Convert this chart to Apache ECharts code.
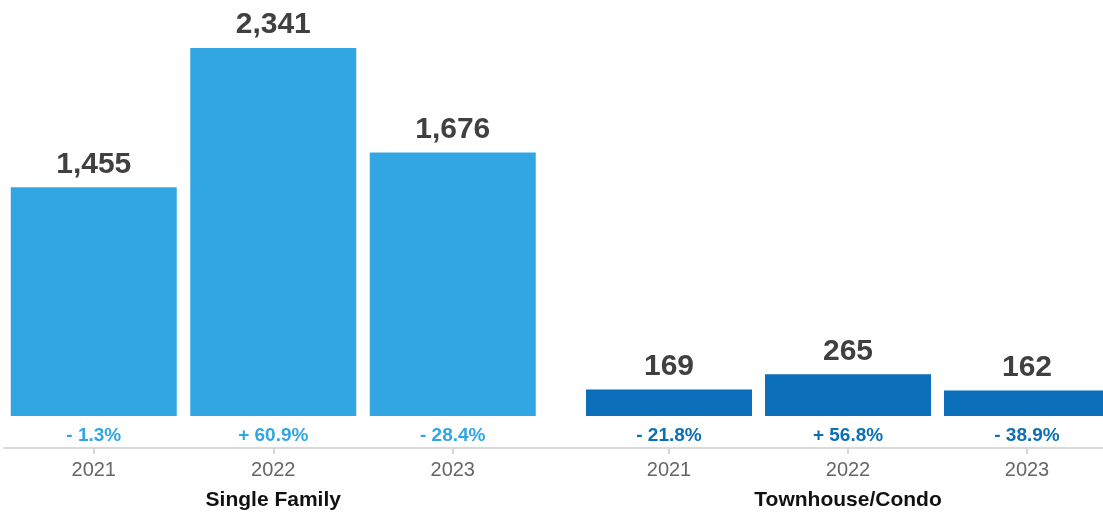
<!DOCTYPE html>
<html>
<head>
<meta charset="utf-8">
<script src="https://cdn.jsdelivr.net/npm/echarts@6/dist/echarts.min.js"></script>
<style>
html,body{margin:0;padding:0;background:#fff;}
#chart{width:1103px;height:514px;}
</style>
</head>
<body>
<div id="chart"></div>
<script>
const groups = ['Single Family', 'Townhouse/Condo'];
const years = ['2021', '2022', '2023'];
const singleFamily = [1455, 2341, 1676];
const townhouse = [169, 265, 162];
const singleFamilyChange = ['- 1.3%', '+ 60.9%', '- 28.4%'];
const townhouseChange = ['- 21.8%', '+ 56.8%', '- 38.9%'];

const FONT = '"Liberation Sans", Arial, Helvetica, sans-serif';
const colors = ['#31a6e2', '#0a6eb8'];
const changeColors = ['#31a6e2', '#0b6fb8'];
const values = [singleFamily, townhouse];
const changes = [singleFamilyChange, townhouseChange];

const grids = [
  { left: 4, width: 538.5, top: 23, bottom: 98, outerBoundsMode: 'none', containLabel: false },
  { left: 579.5, width: 537, top: 23, bottom: 98, outerBoundsMode: 'none', containLabel: false },
  { left: 4, width: 1112, top: 23, bottom: 98, outerBoundsMode: 'none', containLabel: false }
];

const xAxes = [];
const yAxes = [];
const series = [];
for (let g = 0; g < 2; g++) {
  xAxes.push({
    type: 'category', gridIndex: g, data: years, offset: 32,
    axisLine: { show: false, onZero: false },
    axisTick: { show: true, alignWithLabel: true, length: 6, lineStyle: { color: '#d6d6d6', width: 2 } },
    axisLabel: { color: '#666', fontSize: 20, fontFamily: FONT, margin: 12 },
    name: groups[g], nameLocation: 'middle', nameGap: 42,
    nameTextStyle: { color: '#111', fontSize: 21, fontWeight: 'bold', fontFamily: FONT }
  });
  yAxes.push({ type: 'value', gridIndex: g, min: 0, max: 2500, show: false });
  series.push({
    type: 'bar', xAxisIndex: g, yAxisIndex: g, data: values[g], barWidth: 166,
    itemStyle: { color: colors[g] },
    label: {
      show: true, position: 'top', distance: 8,
      fontSize: 30, fontWeight: 'bold', color: '#404040', fontFamily: FONT,
      formatter: p => p.value.toLocaleString('en-US')
    },
    z: 3
  });
  series.push({
    type: 'bar', xAxisIndex: g, yAxisIndex: g, data: values[g], barWidth: 166, barGap: '-100%',
    itemStyle: { color: 'rgba(0,0,0,0)' },
    label: {
      show: true, position: 'bottom', distance: 10,
      fontSize: 19, fontWeight: 'bold', color: changeColors[g], fontFamily: FONT,
      formatter: p => changes[g][p.dataIndex]
    },
    z: 4
  });
}
// continuous baseline axis spanning both groups
xAxes.push({
  type: 'category', gridIndex: 2, data: [''], offset: 32,
  axisLine: { show: true, onZero: false, lineStyle: { color: '#d9d9d9', width: 2 } },
  axisTick: { show: false }, axisLabel: { show: false }
});
yAxes.push({ type: 'value', gridIndex: 2, show: false });

const chart = echarts.init(document.getElementById('chart'));
chart.setOption({
  animation: false,
  grid: grids,
  xAxis: xAxes,
  yAxis: yAxes,
  series: series
});
</script>
</body>
</html>
